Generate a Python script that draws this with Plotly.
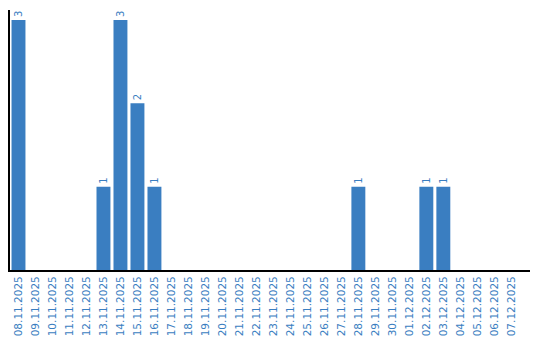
import plotly.graph_objects as go

dates = ["08.11.2025","09.11.2025","10.11.2025","11.11.2025","12.11.2025","13.11.2025",
         "14.11.2025","15.11.2025","16.11.2025","17.11.2025","18.11.2025","19.11.2025",
         "20.11.2025","21.11.2025","22.11.2025","23.11.2025","24.11.2025","25.11.2025",
         "26.11.2025","27.11.2025","28.11.2025","29.11.2025","30.11.2025","01.12.2025",
         "02.12.2025","03.12.2025","04.12.2025","05.12.2025","06.12.2025","07.12.2025"]
counts = [3,0,0,0,0,1,3,2,1,0,0,0,0,0,0,0,0,0,0,0,1,0,0,0,1,1,0,0,0,0]
labels = [str(c) if c > 0 else "" for c in counts]

blue = "#3a7ec1"

fig = go.Figure(go.Bar(
    x=dates, y=counts, marker_color=blue, marker_line_width=0,
    text=labels, textposition="outside", textangle=-90,
    textfont=dict(color=blue, size=10, family="DejaVu Sans"),
    cliponaxis=False,
))
fig.update_layout(
    width=540, height=340,
    margin=dict(l=10, r=10, t=10, b=70),
    paper_bgcolor="white", plot_bgcolor="white",
    bargap=0.18, showlegend=False,
    font=dict(family="DejaVu Sans"),
)
fig.update_xaxes(
    type="category", range=[-0.5, 30.1], automargin=False,
    showline=True, linecolor="black", linewidth=2,
    tickangle=-90, tickfont=dict(color=blue, size=10.5, family="DejaVu Sans"),
    ticks="", showgrid=False,
)
fig.update_yaxes(
    range=[0, 3.12], showline=True, linecolor="black", linewidth=2,
    showticklabels=False, ticks="", showgrid=False, zeroline=False,
    automargin=False,
)
fig.write_html("out.html")
